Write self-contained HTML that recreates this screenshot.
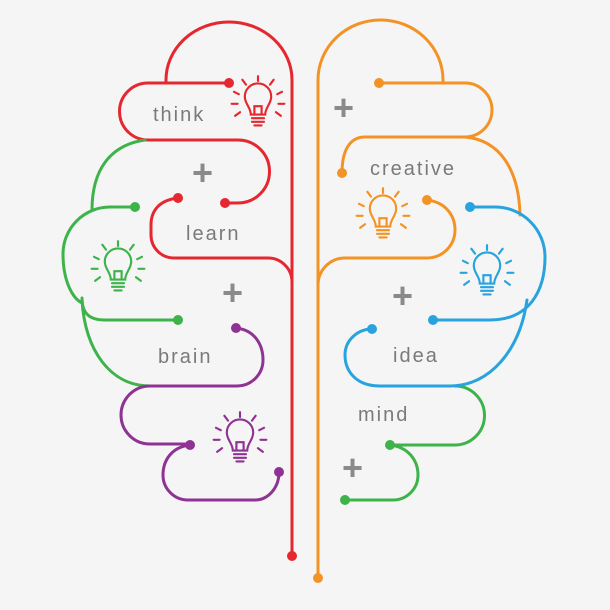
<!DOCTYPE html>
<html><head><meta charset="utf-8"><style>
body{margin:0;background:#f5f5f5;}
svg{display:block}
text{font-family:"Liberation Sans",sans-serif;fill:#7a7a7a;font-size:20px;letter-spacing:2px}
.p{fill:#8a8a8a;font-size:36px;letter-spacing:0;font-weight:bold}
</style></head><body>
<svg width="610" height="610" viewBox="0 0 610 610" xmlns="http://www.w3.org/2000/svg">
<defs>
<symbol id="b" viewBox="-25 -25 50 50" overflow="visible">
<g fill="none" stroke="currentColor" stroke-width="1.8" stroke-linecap="round">
<path d="M-6,8 C-6,2 -11,-1 -11,-7 A11,11 0 0 1 11,-7 C11,-1 6,2 6,8 Z"/>
<path d="M-3,8 V1 H3 V8"/>
<path d="M-5,11 H5 M-5,14 H5 M-3,17 H3"/>
<path d="M0,-20 V-24 M-10,-17 L-13,-21 M10,-17 L13,-21 M-16,-9 L-20,-11 M16,-9 L20,-11 M-17,-1 H-22 M17,-1 H22 M-15,6 L-19,9 M15,6 L19,9"/>
</g>
</symbol>
</defs>
<g fill="none" stroke-width="3" stroke-linecap="round">
<g stroke="#e52730">
<path d="M166,83 V80 A63,58 0 0 1 292,80 V556"/>
<path d="M229,83 H148 A28.5,28.5 0 0 0 148,140 H238 A31.5,31.5 0 0 1 238,203 H225"/>
<path d="M178,198 C160,200 151,210 151,225 V235 A23,23 0 0 0 174,258 H268 A24,24 0 0 1 292,282"/>
</g>
<g stroke="#3db34a">
<path d="M145,140 C110,145 92,170 92,210"/>
<path d="M135,207 H110 A47,47 0 0 0 63,254 C63,280 72,298 82,303"/>
<path d="M82,298 C82,314 90,320 105,320 H178"/>
<path d="M82,300 C85,350 110,386 150,386"/>
<path d="M455,386 A29.5,29.5 0 0 1 455,445 H390 C408,447 418,460 418,475 A25,25 0 0 1 393,500 H345"/>
</g>
<g stroke="#8e3393">
<path d="M236,328 C255,330 263,345 263,360 A26,26 0 0 1 237,386 H150 A29,29 0 0 0 150,444 H190"/>
<path d="M190,445 C172,447 163,460 163,475 A25,25 0 0 0 188,500 H255 C268,500 279,488 279,472"/>
</g>
<g stroke="#f39325">
<path d="M443,83 V80 A62.5,60 0 0 0 318,80 V578"/>
<path d="M379,83 H465 A27,27 0 0 1 465,137 H365 C350,137 342,150 342,173"/>
<path d="M465,137 C500,140 519,170 520,215"/>
<path d="M427,200 C445,202 455,215 455,230 A28,28 0 0 1 427,258 H345 A27,27 0 0 0 318,285"/>
</g>
<g stroke="#29a3dd">
<path d="M470,207 H495 A50,50 0 0 1 545,257 C545,290 530,320 490,320 H433"/>
<path d="M527,300 C520,350 490,386 450,386 H380 C355,386 345,370 345,355 C345,340 358,329 372,329"/>
</g>
</g>
<g>
<circle cx="292" cy="556" r="5" fill="#e52730"/><circle cx="229" cy="83" r="5" fill="#e52730"/><circle cx="225" cy="203" r="5" fill="#e52730"/><circle cx="178" cy="198" r="5" fill="#e52730"/>
<circle cx="135" cy="207" r="5" fill="#3db34a"/><circle cx="178" cy="320" r="5" fill="#3db34a"/><circle cx="390" cy="445" r="5" fill="#3db34a"/><circle cx="345" cy="500" r="5" fill="#3db34a"/>
<circle cx="236" cy="328" r="5" fill="#8e3393"/><circle cx="190" cy="445" r="5" fill="#8e3393"/><circle cx="279" cy="472" r="5" fill="#8e3393"/>
<circle cx="318" cy="578" r="5" fill="#f39325"/><circle cx="379" cy="83" r="5" fill="#f39325"/><circle cx="342" cy="173" r="5" fill="#f39325"/><circle cx="427" cy="200" r="5" fill="#f39325"/>
<circle cx="470" cy="207" r="5" fill="#29a3dd"/><circle cx="433" cy="320" r="5" fill="#29a3dd"/><circle cx="372" cy="329" r="5" fill="#29a3dd"/>
</g>
<use href="#b" x="228" y="75" width="60" height="60" style="color:#e52730"/>
<use href="#b" x="88" y="240" width="60" height="60" style="color:#3db34a"/>
<use href="#b" x="353" y="187" width="60" height="60" style="color:#f39325"/>
<use href="#b" x="457" y="244" width="60" height="60" style="color:#29a3dd"/>
<use href="#b" x="210" y="411" width="60" height="60" style="color:#8e3393"/>
<text x="153" y="121">think</text>
<text x="370" y="175">creative</text>
<text x="186" y="240">learn</text>
<text x="158" y="363">brain</text>
<text x="393" y="362">idea</text>
<text x="358" y="421">mind</text>
<text class="p" x="192" y="185">+</text>
<text class="p" x="222" y="305">+</text>
<text class="p" x="333" y="120">+</text>
<text class="p" x="392" y="308">+</text>
<text class="p" x="342" y="480">+</text>
</svg>
</body></html>
